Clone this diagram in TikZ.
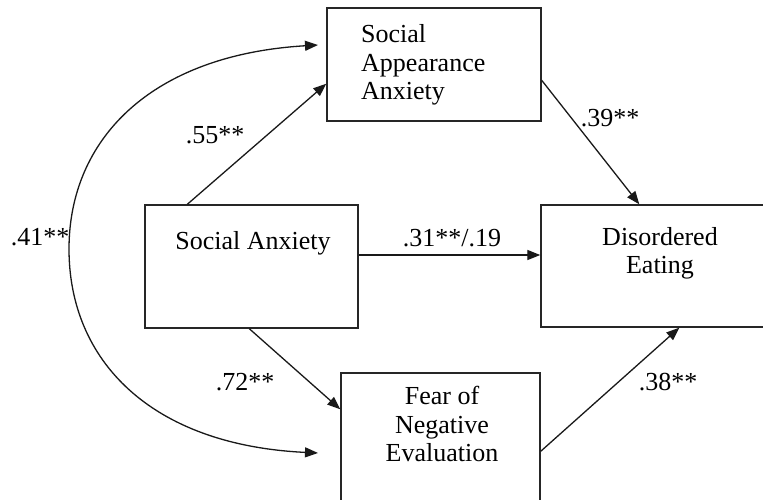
\documentclass[tikz,border=0pt]{standalone}
\usepackage{fontspec}
\setmainfont{Liberation Serif}
\usetikzlibrary{arrows.meta,calc}
\begin{document}
\begin{tikzpicture}[x=1pt,y=-1pt,
  box/.style={draw=black!85,line width=1.4pt,rectangle,inner sep=0pt},
  txt/.style={inner sep=0pt,font=\fontsize{26}{28.5}\selectfont},
  tip/.style={Triangle[length=13pt,width=10pt]},
  conn/.style={draw=black!90,line width=1.3pt,-{Triangle[length=13pt,width=10pt]}},
  lab/.style={inner sep=0pt,font=\fontsize{26}{28.5}\selectfont}]
\useasboundingbox (0,0) rectangle (763,500);
% boxes
\node[box,minimum width=214pt,minimum height=113pt] (saa) at (434,64.5) {};
\node[box,minimum width=213pt,minimum height=123pt] (sa) at (251.5,266.5) {};
\node[box,minimum width=240pt,minimum height=122pt] (de) at (661,266) {};
\node[box,minimum width=199pt,minimum height=150pt] (fne) at (440.5,448) {};
% texts
\node[txt,anchor=west,align=left] (saat) at (361,65) {Social\\Appearance\\Anxiety};
\node[txt] (sat) at (253,243) {Social Anxiety};
\node[txt,align=center] (det) at (660,253.5) {Disordered\\Eating};
\node[txt,align=center] (fnet) at (442,424) {Fear of\\Negative\\Evaluation};
% connectors
\path[conn] ($(sa.north west)+(43,0)$) -- ($(saa.south west)+(0,-38)$);
\path[conn] ($(sa.south west)+(105,0)$) -- ($(fne.north west)+(0,37)$);
\path[conn] (sa.east |- 0,255) -- (de.west |- 0,255);
\path[conn] ($(saa.north east)+(0,73)$) -- ($(de.north west)+(99,0)$);
\path[conn] ($(fne.north east)+(0,79)$) -- ($(de.south west)+(139,0)$);
\coordinate (ct) at (318,45);
\coordinate (cb) at (318,453);
\path[draw=black!90,line width=1.3pt,{Triangle[length=13pt,width=10pt]}-{Triangle[length=13pt,width=10pt]}]
  (cb) .. controls (150,445) and (69,360) .. (69,249)
  .. controls (69,140) and (150,55) .. (ct);
% labels
\node[lab] (l55) at (215,135) {.55**};
\node[lab] (l41) at (40,237) {.41**};
\node[lab] (l72) at (245,382) {.72**};
\node[lab] (l31) at (452,238) {.31**/.19};
\node[lab] (l39) at (610,118) {.39**};
\node[lab] (l38) at (668,382) {.38**};
\end{tikzpicture}
\end{document}
